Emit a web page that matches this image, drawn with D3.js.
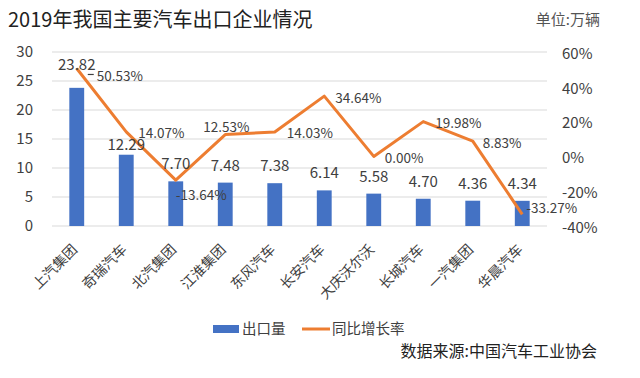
<!DOCTYPE html>
<html>
<head>
<meta charset="utf-8">
<script src="https://cdn.jsdelivr.net/npm/d3@7"></script>
<style>
  body { margin: 0; background: #fff; }
  text { font-family: "Noto Sans CJK SC", "Noto Sans", sans-serif; }
</style>
</head>
<body>
<div class="chart"></div>
<script>
// data
var companies = ["上汽集团", "奇瑞汽车", "北汽集团", "江淮集团", "东风汽车", "长安汽车", "大庆沃尔沃", "长城汽车", "一汽集团", "华晨汽车"];
var exports = [23.82, 12.29, 7.70, 7.48, 7.38, 6.14, 5.58, 4.70, 4.36, 4.34];
var growth = [50.53, 14.07, -13.64, 12.53, 14.03, 34.64, 0.00, 19.98, 8.83, -33.27];
var leftTicks = [0, 5, 10, 15, 20, 25, 30];
var rightTicks = [-40, -20, 0, 20, 40, 60];

// label nudges (layout only)
var barLabelLift = [18, 5, 12, 12, 12, 12, 12, 12, 12, 12];
var lineLabelOffset = [[20, 13], [12, 6], [0, 20], [-22, -3], [12, 6], [11, 7], [11, 7], [12, 6], [10, 7], [4, -1]];

var svgWidth = 640;
var svgHeight = 378;
var margin = { top: 52, right: 93, bottom: 152, left: 52 };
var width = svgWidth - margin.left - margin.right;
var height = svgHeight - margin.top - margin.bottom;

var svg = d3.select(".chart")
    .append("svg")
    .attr("width", svgWidth)
    .attr("height", svgHeight);

var chartGroup = svg.append("g")
    .attr("transform", `translate(${margin.left}, ${margin.top})`);

var xBand = d3.scaleBand()
    .domain(companies)
    .range([0, width])
    .padding(0);

var yLeft = d3.scaleLinear().domain([0, 30]).range([height, 0]);
var yRight = d3.scaleLinear().domain([-40, 60]).range([height, 0]);

var cx = d => xBand(d) + xBand.bandwidth() / 2;
var barWidth = xBand.bandwidth() * 0.3;

// gridlines
chartGroup.selectAll(".grid")
    .data(leftTicks)
    .enter()
    .append("line")
    .attr("x1", 0)
    .attr("x2", width)
    .attr("y1", d => yLeft(d))
    .attr("y2", d => yLeft(d))
    .attr("stroke", "#d9d9d9")
    .attr("stroke-width", 1);

// left axis
var leftAxis = d3.axisLeft(yLeft).tickValues(leftTicks).tickSize(0).tickPadding(19);
var gl = chartGroup.append("g").call(leftAxis);
gl.select(".domain").remove();
gl.selectAll("text").attr("font-size", 15).attr("fill", "#404040");

// right axis
var rightAxis = d3.axisRight(yRight).tickValues(rightTicks).tickSize(0).tickPadding(15)
    .tickFormat(d => d + "%");
var gr = chartGroup.append("g")
    .attr("transform", `translate(${width}, 0)`)
    .call(rightAxis);
gr.select(".domain").remove();
gr.selectAll("text").attr("font-size", 15).attr("fill", "#404040").attr("dy", "0.42em");

// bars
chartGroup.selectAll(".bar")
    .data(exports)
    .enter()
    .append("rect")
    .attr("x", (d, i) => cx(companies[i]) - barWidth / 2)
    .attr("y", d => yLeft(d))
    .attr("width", barWidth)
    .attr("height", d => height - yLeft(d))
    .attr("fill", "#4472C4");

// line
var line = d3.line()
    .x((d, i) => cx(companies[i]))
    .y(d => yRight(d));

chartGroup.append("path")
    .datum(growth)
    .attr("d", line)
    .attr("fill", "none")
    .attr("stroke", "#ED7D31")
    .attr("stroke-width", 3)
    .attr("stroke-linejoin", "round");

// bar value labels
chartGroup.selectAll(".barLabel")
    .data(exports)
    .enter()
    .append("text")
    .attr("x", (d, i) => cx(companies[i]))
    .attr("y", (d, i) => yLeft(d) - barLabelLift[i])
    .attr("text-anchor", "middle")
    .attr("font-size", 15)
    .attr("fill", "#404040")
    .text(d => d.toFixed(2));

// growth labels
chartGroup.selectAll(".lineLabel")
    .data(growth)
    .enter()
    .append("text")
    .attr("x", (d, i) => cx(companies[i]) + lineLabelOffset[i][0])
    .attr("y", (d, i) => yRight(d) + lineLabelOffset[i][1])
    .attr("font-size", 13.5)
    .attr("fill", "#404040")
    .text(d => d.toFixed(2) + "%");

// small leader next to the first growth label
chartGroup.append("line")
    .attr("x1", cx(companies[0]) + 11)
    .attr("x2", cx(companies[0]) + 17)
    .attr("y1", yRight(growth[0]) + 6)
    .attr("y2", yRight(growth[0]) + 6)
    .attr("stroke", "#404040")
    .attr("stroke-width", 1.2);

// category labels
chartGroup.selectAll(".cat")
    .data(companies)
    .enter()
    .append("text")
    .attr("transform", d => `translate(${cx(d) - 2}, ${height + 21}) rotate(-45)`)
    .attr("text-anchor", "end")
    .attr("dy", "0.35em")
    .attr("font-size", 14)
    .attr("fill", "#404040")
    .text(d => d);

// legend
var legend = svg.append("g").attr("transform", "translate(213, 329)");
legend.append("rect")
    .attr("x", 0).attr("y", -4)
    .attr("width", 26).attr("height", 8)
    .attr("fill", "#4472C4");
legend.append("text")
    .attr("x", 29).attr("y", 0).attr("dy", "0.35em")
    .attr("font-size", 14.5).attr("fill", "#404040")
    .text("出口量");
legend.append("line")
    .attr("x1", 89).attr("x2", 117)
    .attr("y1", 0).attr("y2", 0)
    .attr("stroke", "#ED7D31").attr("stroke-width", 3);
legend.append("text")
    .attr("x", 119).attr("y", 0).attr("dy", "0.35em")
    .attr("font-size", 14.5).attr("fill", "#404040")
    .text("同比增长率");

// title and notes
svg.append("text")
    .attr("x", 8)
    .attr("y", 27)
    .attr("font-size", 20)
    .attr("fill", "#222")
    .text("2019年我国主要汽车出口企业情况");

svg.append("text")
    .attr("x", 600)
    .attr("y", 25)
    .attr("text-anchor", "end")
    .attr("font-size", 15)
    .attr("fill", "#555")
    .text("单位:万辆");

svg.append("text")
    .attr("x", 597)
    .attr("y", 357)
    .attr("text-anchor", "end")
    .attr("font-size", 16)
    .attr("fill", "#222")
    .text("数据来源:中国汽车工业协会");
</script>
</body>
</html>
